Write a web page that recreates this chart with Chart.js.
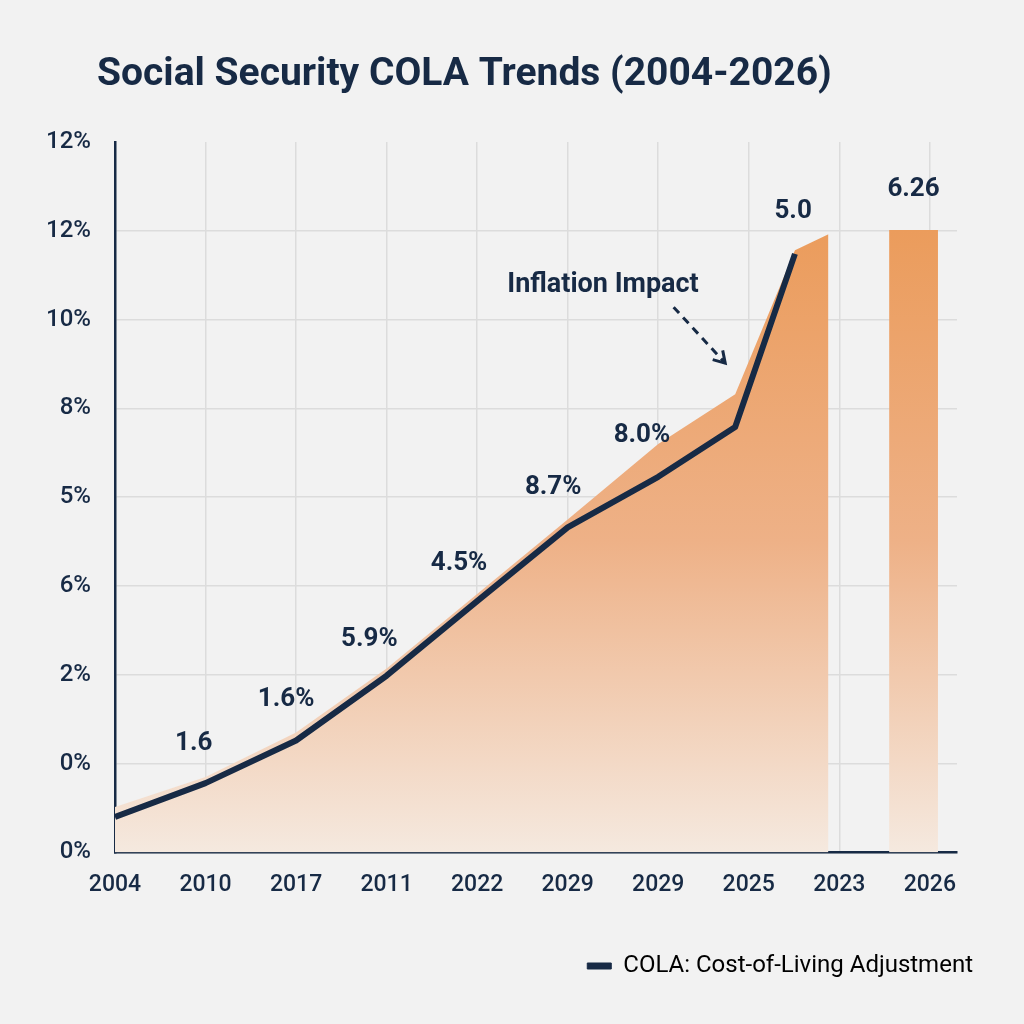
<!DOCTYPE html>
<html>
<head>
<meta charset="utf-8">
<script src="https://cdn.jsdelivr.net/npm/chart.js@4.4.1/dist/chart.umd.min.js"></script>
<style>
  html, body { margin: 0; padding: 0; background: #f2f2f2; }
  #wrap { width: 1024px; height: 1024px; }
</style>
</head>
<body>
<div id="wrap"><canvas id="cola" width="1024" height="1024"></canvas></div>
<script>
// x values are category slots (0 = first year label ... 9 = last), y values are grid steps
const xTickLabels = ['2004', '2010', '2017', '2011', '2022', '2029', '2029', '2025', '2023', '2026'];
const yTickLabels = ['0%', '0%', '2%', '6%', '5%', '8%', '10%', '12%', '12%'];

const colaX = [0, 1, 2, 3, 4, 5, 6, 6.85, 7.51];
const colaY = [0.40, 0.78, 1.26, 1.99, 2.83, 3.66, 4.23, 4.79, 6.74];

const areaX = [0, 1, 2, 3, 4, 5, 6, 6.85, 7.51, 7.88];
const areaY = [0.51, 0.85, 1.35, 2.07, 2.91, 3.75, 4.60, 5.16, 6.78, 6.96];

const barX = [8.55, 9.09];
const barY = [7.01, 7.01];

const valueLabels = ['1.6', '1.6%', '5.9%', '4.5%', '8.7%', '8.0%', '5.0', '6.26'];

// where the value labels and the note sit, in axis units
const labelAnchors = [[0.87, 1.23], [1.89, 1.72], [2.81, 2.40], [3.80, 3.25], [4.84, 4.11], [5.82, 4.69], [7.49, 7.22], [8.82, 7.47]];
const noteAnchor = [5.39, 6.39];
const arrowFrom = [6.17, 6.14];
const arrowTo = [6.74, 5.51];

const NAVY = '#172a45';
const GRID = '#dcdcdc';

function points(xs, ys) {
    return xs.map((x, i) => ({x: x, y: ys[i]}));
}

function orangeFade(context) {
    const chart = context.chart;
    const area = chart.chartArea;
    if (!area) {
        return 'rgba(236,160,100,0.8)';
    }
    const top = chart.scales.y.getPixelForValue(7);
    const g = chart.ctx.createLinearGradient(0, top, 0, area.bottom);
    g.addColorStop(0, '#eb9c5c');
    g.addColorStop(0.5, '#eeb187');
    g.addColorStop(1, '#f5e9df');
    return g;
}

const decorations = {
    id: 'decorations',
    afterDatasetsDraw(chart) {
        const {ctx, scales: {x, y}} = chart;
        ctx.save();
        ctx.fillStyle = NAVY;
        ctx.strokeStyle = NAVY;
        ctx.textAlign = 'center';
        ctx.textBaseline = 'middle';

        ctx.font = 'bold 26px Roboto';
        valueLabels.forEach((t, i) => {
            ctx.fillText(t, x.getPixelForValue(labelAnchors[i][0]), y.getPixelForValue(labelAnchors[i][1]));
        });

        ctx.font = 'bold 27px Roboto';
        ctx.fillText('Inflation Impact', x.getPixelForValue(noteAnchor[0]), y.getPixelForValue(noteAnchor[1]));

        // dashed pointer
        const x1 = x.getPixelForValue(arrowFrom[0]), y1 = y.getPixelForValue(arrowFrom[1]);
        const x2 = x.getPixelForValue(arrowTo[0]), y2 = y.getPixelForValue(arrowTo[1]);
        ctx.lineWidth = 3;
        ctx.setLineDash([8, 6]);
        ctx.beginPath();
        ctx.moveTo(x1, y1);
        ctx.lineTo(x2, y2);
        ctx.stroke();
        ctx.setLineDash([]);
        const ang = Math.atan2(y2 - y1, x2 - x1);
        ctx.beginPath();
        ctx.moveTo(x2 - 13 * Math.cos(ang - 0.55), y2 - 13 * Math.sin(ang - 0.55));
        ctx.lineTo(x2, y2);
        ctx.lineTo(x2 - 13 * Math.cos(ang + 0.55), y2 - 13 * Math.sin(ang + 0.55));
        ctx.stroke();

        // title
        ctx.textAlign = 'left';
        ctx.font = 'bold 39px Roboto';
        ctx.fillText('Social Security COLA Trends (2004-2026)', 97, 75);
        ctx.restore();
    }
};

new Chart(document.getElementById('cola'), {
    type: 'line',
    data: {
        datasets: [
            {
                label: 'COLA',
                data: points(colaX, colaY),
                borderColor: NAVY,
                borderWidth: 6,
                borderJoinStyle: 'round',
                pointRadius: 0,
                fill: false,
                tension: 0,
                order: 0
            },
            {
                label: 'area',
                data: points(areaX, areaY),
                borderColor: 'rgba(0,0,0,0)',
                borderWidth: 0,
                pointRadius: 0,
                fill: 'origin',
                backgroundColor: orangeFade,
                tension: 0,
                order: 1
            },
            {
                label: 'bar',
                data: points(barX, barY),
                borderColor: 'rgba(0,0,0,0)',
                borderWidth: 0,
                pointRadius: 0,
                fill: 'origin',
                backgroundColor: orangeFade,
                order: 2
            }
        ]
    },
    options: {
        responsive: false,
        animation: false,
        devicePixelRatio: 1,
        layout: {
            padding: {top: 142, left: 0, right: 41, bottom: 36}
        },
        plugins: {
            tooltip: {enabled: false},
            title: {display: false},
            legend: {
                position: 'bottom',
                align: 'end',
                labels: {
                    boxWidth: 24,
                    boxHeight: 6,
                    padding: 10,
                    color: NAVY,
                    font: {family: 'Roboto', size: 24},
                    generateLabels: () => [{
                        text: 'COLA: Cost-of-Living Adjustment',
                        fillStyle: NAVY,
                        strokeStyle: NAVY,
                        lineWidth: 1,
                        datasetIndex: 0,
                        hidden: false
                    }]
                }
            }
        },
        scales: {
            x: {
                type: 'linear',
                min: 0,
                max: 9.3,
                afterBuildTicks: s => { s.ticks = xTickLabels.map((_, i) => ({value: i})); },
                afterFit: s => { s.height = 91.6; },
                grid: {color: GRID, lineWidth: 1.5, drawTicks: false},
                border: {color: NAVY, width: 2.5},
                ticks: {
                    autoSkip: false,
                    maxRotation: 0,
                    padding: 19,
                    color: NAVY,
                    font: {family: 'Roboto', size: 23, weight: '500'},
                    callback: v => xTickLabels[Math.round(v)]
                }
            },
            y: {
                min: 0,
                max: 8,
                afterBuildTicks: s => { s.ticks = yTickLabels.map((_, i) => ({value: i})); },
                afterFit: s => { s.width = 115; },
                grid: {
                    color: c => (c.tick && c.tick.value === 8) ? 'rgba(0,0,0,0)' : GRID,
                    lineWidth: 1.5,
                    drawTicks: false
                },
                border: {color: NAVY, width: 2.5},
                ticks: {
                    padding: 24,
                    color: NAVY,
                    font: {family: 'Roboto', size: 24, weight: '500'},
                    callback: v => yTickLabels[Math.round(v)]
                }
            },
            y2: {
                axis: 'y',
                position: 'right',
                min: 0,
                max: 8,
                afterFit: s => { s.width = 26; },
                grid: {display: false},
                border: {display: false},
                ticks: {display: false}
            }
        }
    },
    plugins: [decorations]
});
</script>
</body>
</html>
